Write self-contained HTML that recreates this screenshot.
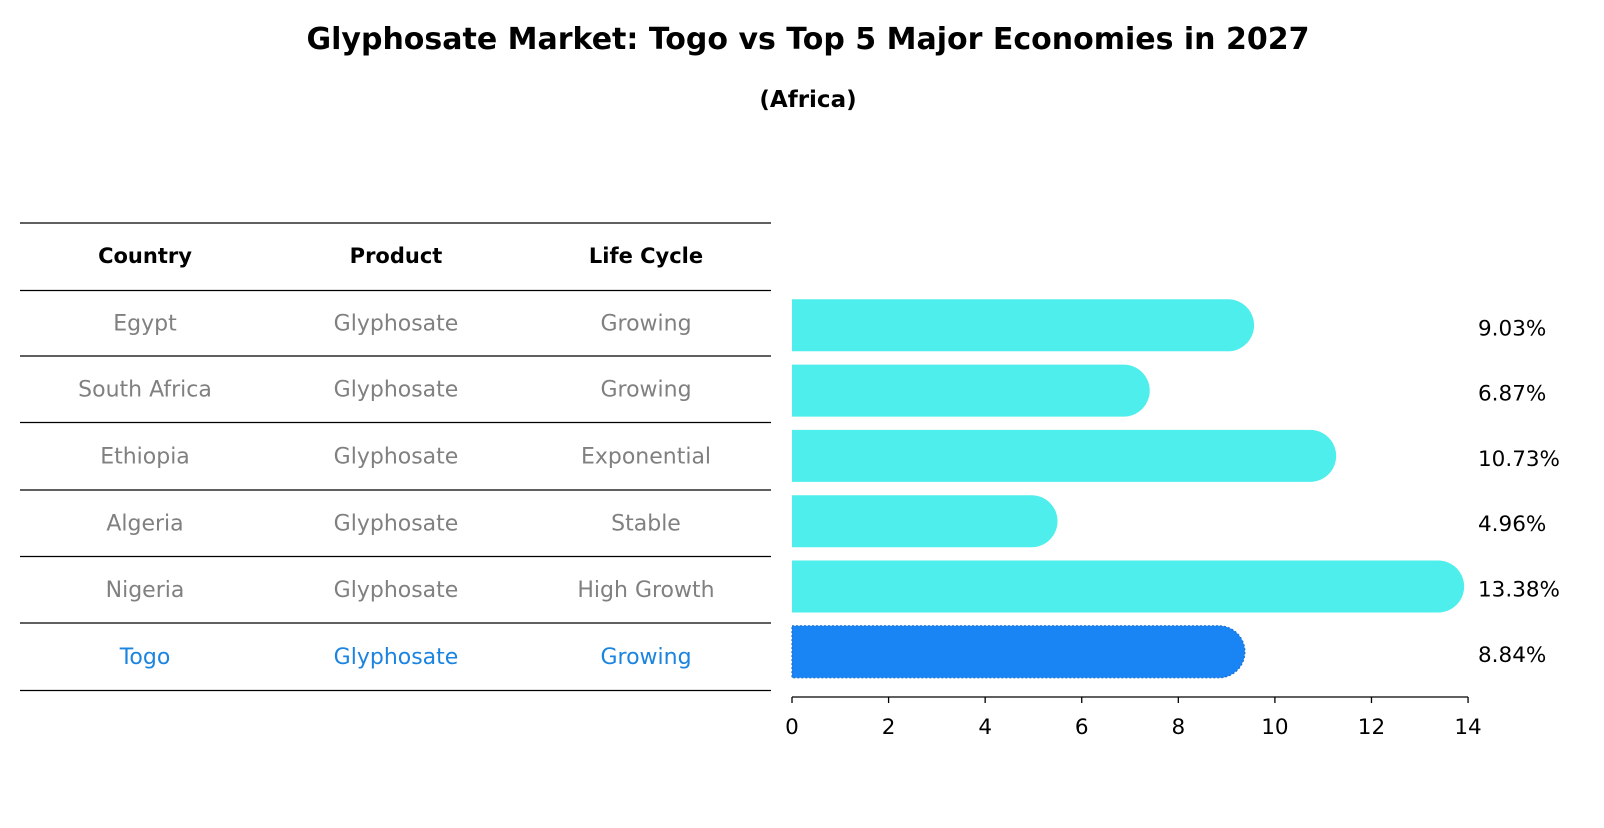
<!DOCTYPE html>
<html><head><meta charset="utf-8"><style>
body{margin:0;background:#fff;font-family:"Liberation Sans","DejaVu Sans",sans-serif}
svg text{font-family:"DejaVu Sans","Liberation Sans",sans-serif}
</style></head><body>
<svg id="c" width="1604" height="823" xmlns="http://www.w3.org/2000/svg">
<text x="808" y="49" text-anchor="middle" font-size="30" font-weight="bold">Glyphosate Market: Togo vs Top 5 Major Economies in 2027</text>
<text x="808" y="107" text-anchor="middle" font-size="23" font-weight="bold">(Africa)</text>
<g id="table"></g>
<g id="bars"></g>
<g id="axis"></g>
</svg>
<script>
const countries=["Egypt","South Africa","Ethiopia","Algeria","Nigeria","Togo"];
const products=["Glyphosate","Glyphosate","Glyphosate","Glyphosate","Glyphosate","Glyphosate"];
const lifecycles=["Growing","Growing","Exponential","Stable","High Growth","Growing"];
const values=[9.03,6.87,10.73,4.96,13.38,8.84];
const ticks=[0,2,4,6,8,10,12,14];
const NS="http://www.w3.org/2000/svg";
const x0=792,pxPer=48.29,barH=52;
const xs=v=>x0+v*pxPer;
const yc=i=>325.3+65.3*i;
function mk(t,a,p){const e=document.createElementNS(NS,t);for(const k in a)e.setAttribute(k,a[k]);p.appendChild(e);return e;}
const tb=document.getElementById('table'),bg=document.getElementById('bars'),ax=document.getElementById('axis');
const colX=[145,396,646];
const lines=[223,290.5,356,422.5,490,556.5,623,690.5];
lines.forEach((y,i)=>{const l=mk('line',{x1:20,x2:771,y1:y,y2:y,stroke:'#000','stroke-width':1.2},tb);

});
["Country","Product","Life Cycle"].forEach((h,j)=>{const t=mk('text',{x:colX[j],y:263,'text-anchor':'middle','font-size':21,'font-weight':'bold'},tb);t.textContent=h;

});
countries.forEach((c,i)=>{const isT=c==="Togo";const y=(lines[i+1]+lines[i+2])/2+7;
[c,products[i],lifecycles[i]].forEach((v,j)=>{const t=mk('text',{x:colX[j],y:y,'text-anchor':'middle','font-size':22,fill:isT?'#1a84e0':'#808080'},tb);t.textContent=v;

});
const cy=yc(i), r=barH/2, xe=xs(values[i]);
const p=mk('path',{d:`M${x0},${cy-r}H${xe}A${r},${r} 0 0 1 ${xe},${cy+r}H${x0}Z`,fill:isT?'#1985f5':'#4deeeb',stroke:isT?'#1a6fd0':'none','stroke-width':isT?1.2:0,'stroke-dasharray':isT?'2,2':''},bg);


const t=mk('text',{x:1478,y:cy+10,'font-size':21.5,fill:'#000'},bg);t.textContent=values[i].toFixed(2)+'%';

});
const axY=697;
const al=mk('line',{x1:xs(0),x2:xs(14),y1:axY,y2:axY,stroke:'#000','stroke-width':1.3},ax);


ticks.forEach(v=>{const l=mk('line',{x1:xs(v),x2:xs(v),y1:axY,y2:axY+6,stroke:'#000','stroke-width':1.3},ax);


const t=mk('text',{x:xs(v),y:axY+37,'text-anchor':'middle','font-size':21.5},ax);t.textContent=v;

});
</script>
</body></html>
